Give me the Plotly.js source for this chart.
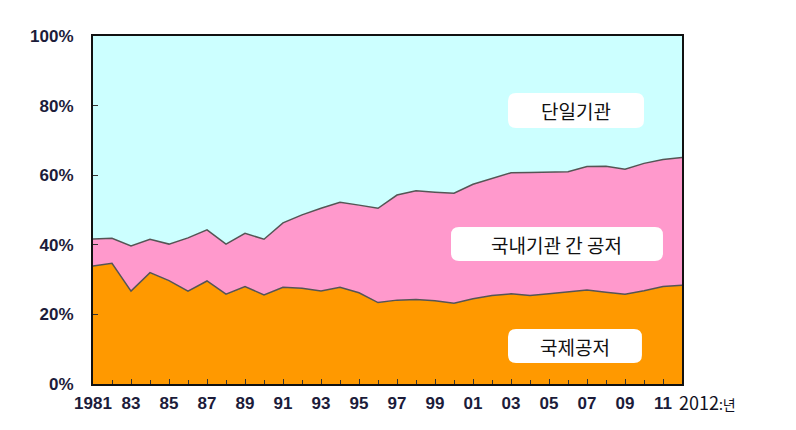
<!DOCTYPE html>
<html><head><meta charset="utf-8">
<script src="https://cdn.plot.ly/plotly-3.0.1.min.js"></script>
<style>html,body{margin:0;padding:0;background:#fff}#c{width:796px;height:430px}</style>
</head><body><div id="c"></div>
<script>
var years = [1981,1982,1983,1984,1985,1986,1987,1988,1989,1990,1991,1992,1993,1994,1995,1996,1997,1998,1999,2000,2001,2002,2003,2004,2005,2006,2007,2008,2009,2010,2011,2012];
var international = [33.9,34.7,26.7,32.0,29.7,26.7,29.6,25.8,28.0,25.6,27.8,27.5,26.7,27.8,26.2,23.4,24.1,24.3,23.9,23.2,24.5,25.4,25.9,25.4,25.9,26.4,27.0,26.4,25.8,26.8,28.0,28.4];
var domestic = [7.8,7.2,13.0,9.6,10.5,15.3,14.7,14.4,15.3,16.0,18.5,21.1,23.8,24.4,25.2,27.1,30.2,31.2,31.2,31.6,32.9,33.7,34.8,35.4,35.1,34.6,35.5,36.2,35.9,36.6,36.5,36.7];
var single = [58.3,58.1,60.3,58.4,59.8,58.0,55.7,59.8,56.7,58.4,53.7,51.4,49.5,47.8,48.6,49.5,45.7,44.5,44.9,45.2,42.6,40.9,39.3,39.2,39.0,39.0,37.5,37.4,38.3,36.6,35.5,34.9];
var seriesNames = ['국제공저','국내기관 간 공저','단일기관'];
var xTickVals = [1981,1983,1985,1987,1989,1991,1993,1995,1997,1999,2001,2003,2005,2007,2009,2011];
var xTickText = ['1981','83','85','87','89','91','93','95','97','99','01','03','05','07','09','11'];
var yTickVals = [0,20,40,60,80,100];
var yTickText = ['0%','20%','40%','60%','80%','100%'];

function trace(y, name, color, lw){
  return {x: years, y: y, name: name, type: 'scatter', mode: 'lines', stackgroup: 'one',
    fillcolor: color, line: {color: lw ? '#555555' : color, width: lw}, hoverinfo: 'skip'};
}
var data = [
  trace(international, seriesNames[0], '#FF9900', 1.5),
  trace(domestic, seriesNames[1], '#FF99CC', 1.5),
  trace(single, seriesNames[2], '#CCFFFF', 0)
];

function roundRect(x0, y0, x1, y1){
  var rx = 8/589, ry = 8/348;
  return 'M'+(x0+rx)+','+y0+' L'+(x1-rx)+','+y0+' Q'+x1+','+y0+' '+x1+','+(y0+ry)+
    ' L'+x1+','+(y1-ry)+' Q'+x1+','+y1+' '+(x1-rx)+','+y1+' L'+(x0+rx)+','+y1+
    ' Q'+x0+','+y1+' '+x0+','+(y1-ry)+' L'+x0+','+(y0+ry)+' Q'+x0+','+y0+' '+(x0+rx)+','+y0+' Z';
}
var boxes = [[0.7046,0.7356,0.9355,0.836],[0.6078,0.3534,0.9677,0.4511],[0.7046,0.0603,0.932,0.158]];
var shapes = boxes.map(function(b){
  return {type:'path', xref:'paper', yref:'paper', path: roundRect(b[0],b[1],b[2],b[3]),
    fillcolor:'#FFFFFF', line:{width:0}};
});
var labelFont = {family:'Noto Sans CJK KR', size:19, color:'#111111'};
var annotations = [
  {text: seriesNames[2], x:(boxes[0][0]+boxes[0][2])/2, y:(boxes[0][1]+boxes[0][3])/2},
  {text: seriesNames[1], x:(boxes[1][0]+boxes[1][2])/2, y:(boxes[1][1]+boxes[1][3])/2},
  {text: seriesNames[0], x:(boxes[2][0]+boxes[2][2])/2, y:(boxes[2][1]+boxes[2][3])/2}
].map(function(a){
  return {text:a.text, x:a.x, y:a.y, xref:'paper', yref:'paper', xanchor:'center', yanchor:'middle',
    showarrow:false, font:labelFont};
});
annotations.push({text:'2012<span style="font-size:14px">:년</span>', xref:'paper', yref:'paper',
  x:0.991, y:-0.053, xanchor:'left', yanchor:'middle', showarrow:false,
  font:{family:'Noto Sans CJK KR', size:18, color:'#111122'}});

var tickFont = {family:'Liberation Sans, Arial, sans-serif', size:17, color:'#1c1c3a', weight:'bold'};
var layout = {
  width:796, height:430,
  margin:{l:93, r:114, t:36, b:46},
  paper_bgcolor:'#FFFFFF', plot_bgcolor:'#FFFFFF',
  showlegend:false,
  xaxis:{range:[1981,2012], tickvals:xTickVals, ticktext:xTickText, ticks:'inside', ticklen:5,
    tickcolor:'#333', showgrid:false, zeroline:false, showline:true, mirror:true,
    linecolor:'#111', linewidth:2, tickfont:tickFont, ticklabelstandoff:3,
    minor:{dtick:1, tick0:1981, ticks:'inside', ticklen:4, tickcolor:'#333', showgrid:false}},
  yaxis:{range:[0,100], tickvals:yTickVals, ticktext:yTickText, ticks:'inside', ticklen:5,
    tickcolor:'#333', showgrid:false, zeroline:false, showline:true, mirror:true,
    linecolor:'#111', linewidth:2, tickfont:tickFont, ticklabelstandoff:14},
  shapes:shapes,
  annotations:annotations
};
Plotly.newPlot('c', data, layout, {staticPlot:true, displayModeBar:false});
</script>
</body></html>
